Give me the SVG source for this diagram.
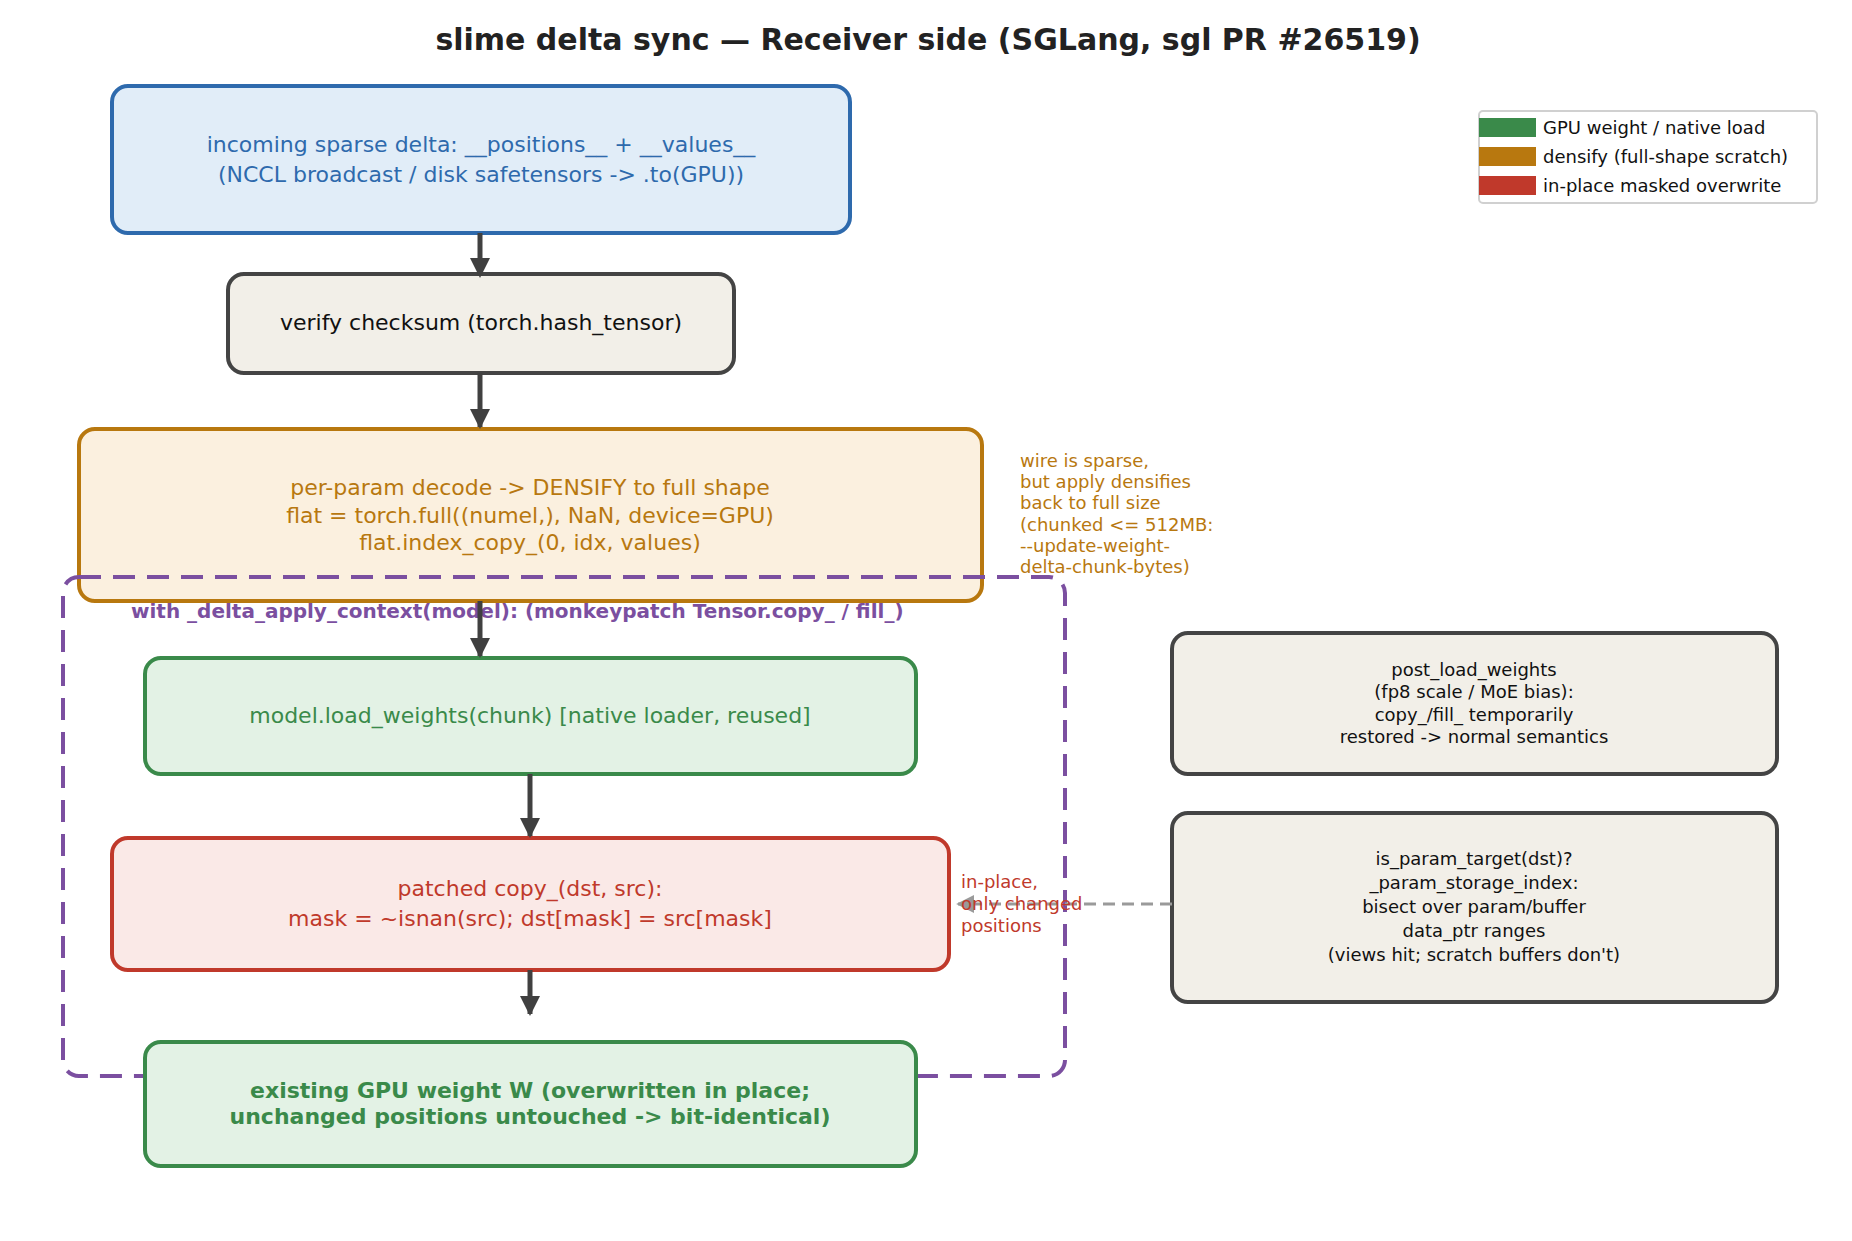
<svg xmlns="http://www.w3.org/2000/svg" width="1852" height="1241" viewBox="0 0 1852 1241">
<style>
text{font-family:"DejaVu Sans","Noto Sans",sans-serif;text-anchor:middle}
.bx{stroke-width:4}
.ar{stroke:#404040;stroke-width:5;fill:none;marker-end:url(#ah)}
.l{text-anchor:start}
</style>
<defs>
<marker id="ah" viewBox="0 0 10 10" refX="9" refY="5" markerWidth="4" markerHeight="4" orient="auto" markerUnits="strokeWidth"><path d="M0,0 L10,5 L0,10 z" fill="#404040"/></marker>
<marker id="ag" viewBox="0 0 10 10" refX="9" refY="5" markerWidth="6" markerHeight="6" orient="auto" markerUnits="strokeWidth"><path d="M0,0 L10,5 L0,10 z" fill="#9a9a9a"/></marker>
</defs>
<rect width="1852" height="1241" fill="#fff"/>
<text x="928" y="50" font-size="30" font-weight="bold" fill="#222">slime delta sync  —  Receiver side (SGLang, sgl PR #26519)</text>
<g id="legend">
<rect x="1479" y="111" width="338" height="92" rx="4" fill="#fff" stroke="#d0d0d0" stroke-width="2"/>
<rect x="1479" y="118" width="57" height="19" fill="#3a8a4a"/>
<rect x="1479" y="147" width="57" height="19" fill="#b8780f"/>
<rect x="1479" y="176" width="57" height="19" fill="#c0392b"/>
<text class="l" x="1543" y="134" font-size="18" fill="#111">GPU weight / native load</text>
<text class="l" x="1543" y="163" font-size="18" fill="#111">densify (full-shape scratch)</text>
<text class="l" x="1543" y="192" font-size="18" fill="#111">in-place masked overwrite</text>
</g>
<g id="incoming">
<rect class="bx" x="112" y="86" width="738" height="147" rx="16" fill="#e1edf8" stroke="#2e6aad"/>
<text x="481" y="152" font-size="22" fill="#2e6aad">incoming sparse delta:  __positions__ + __values__</text>
<text x="481" y="182" font-size="22" fill="#2e6aad">(NCCL broadcast  /  disk safetensors -&gt; .to(GPU))</text>
</g>
<g id="verify">
<rect class="bx" x="228" y="274" width="506" height="99" rx="16" fill="#f2efe8" stroke="#444"/>
<text x="481" y="330" font-size="22" fill="#111">verify checksum  (torch.hash_tensor)</text>
</g>
<g id="decode">
<rect class="bx" x="79" y="429" width="903" height="172" rx="16" fill="#fbf0df" stroke="#b8780f"/>
<text x="530" y="495" font-size="22" fill="#b8780f">per-param decode  -&gt;  DENSIFY to full shape</text>
<text x="530" y="523" font-size="22" fill="#b8780f">flat = torch.full((numel,), NaN, device=GPU)</text>
<text x="530" y="550" font-size="22" fill="#b8780f">flat.index_copy_(0, idx, values)</text>
</g>
<g id="note-densify" font-size="18" fill="#b8780f">
<text class="l" x="1020" y="467">wire is sparse,</text>
<text class="l" x="1020" y="488">but apply densifies</text>
<text class="l" x="1020" y="509">back to full size</text>
<text class="l" x="1020" y="531">(chunked &lt;= 512MB:</text>
<text class="l" x="1020" y="552">--update-weight-</text>
<text class="l" x="1020" y="573">delta-chunk-bytes)</text>
</g>
<g id="context">
<rect x="63" y="577" width="1002" height="499" rx="16" fill="none" stroke="#7b4fa0" stroke-width="4" stroke-dasharray="22,12"/>
<text class="l" x="131" y="618" font-size="20" font-weight="bold" fill="#7b4fa0">with  _delta_apply_context(model):   (monkeypatch Tensor.copy_ / fill_)</text>
</g>
<g id="load">
<rect class="bx" x="145" y="658" width="771" height="116" rx="16" fill="#e3f2e5" stroke="#3a8a4a"/>
<text x="530" y="723" font-size="22" fill="#3a8a4a">model.load_weights(chunk)   [native loader, reused]</text>
</g>
<g id="patched">
<rect class="bx" x="112" y="838" width="837" height="132" rx="16" fill="#fae9e7" stroke="#c0392b"/>
<text x="530" y="896" font-size="22" fill="#c0392b">patched copy_(dst, src):</text>
<text x="530" y="926" font-size="22" fill="#c0392b">mask = ~isnan(src);   dst[mask] = src[mask]</text>
</g>
<g id="weight">
<rect class="bx" x="145" y="1042" width="771" height="124" rx="16" fill="#e3f2e5" stroke="#3a8a4a"/>
<text x="530" y="1098" font-size="22" font-weight="bold" fill="#3a8a4a">existing GPU weight  W   (overwritten in place;</text>
<text x="530" y="1124" font-size="22" font-weight="bold" fill="#3a8a4a">unchanged positions untouched -&gt; bit-identical)</text>
</g>
<g id="postload">
<rect class="bx" x="1172" y="633" width="605" height="141" rx="16" fill="#f2efe8" stroke="#444"/>
<g font-size="18" fill="#111">
<text x="1474" y="676">post_load_weights</text>
<text x="1474" y="698">(fp8 scale / MoE bias):</text>
<text x="1474" y="721">copy_/fill_ temporarily</text>
<text x="1474" y="743">restored -&gt; normal semantics</text>
</g>
</g>
<g id="target">
<rect class="bx" x="1172" y="813" width="605" height="189" rx="16" fill="#f2efe8" stroke="#444"/>
<g font-size="18" fill="#111">
<text x="1474" y="865">is_param_target(dst)?</text>
<text x="1474" y="889">_param_storage_index:</text>
<text x="1474" y="913">bisect over param/buffer</text>
<text x="1474" y="937">data_ptr ranges</text>
<text x="1474" y="961">(views hit; scratch buffers don't)</text>
</g>
</g>
<g id="connectors">
<path class="ar" d="M480,233 V276"/>
<path class="ar" d="M480,373 V427"/>
<path class="ar" d="M480,601 V656"/>
<path class="ar" d="M530,774 V836"/>
<path class="ar" d="M530,970 V1014"/>
<path d="M1172,904 H958" stroke="#9a9a9a" stroke-width="3" stroke-dasharray="12,7" fill="none" marker-end="url(#ag)"/>
<g font-size="18" fill="#c0392b">
<text class="l" x="961" y="888">in-place,</text>
<text class="l" x="961" y="910">only changed</text>
<text class="l" x="961" y="932">positions</text>
</g>
</g>
</svg>
